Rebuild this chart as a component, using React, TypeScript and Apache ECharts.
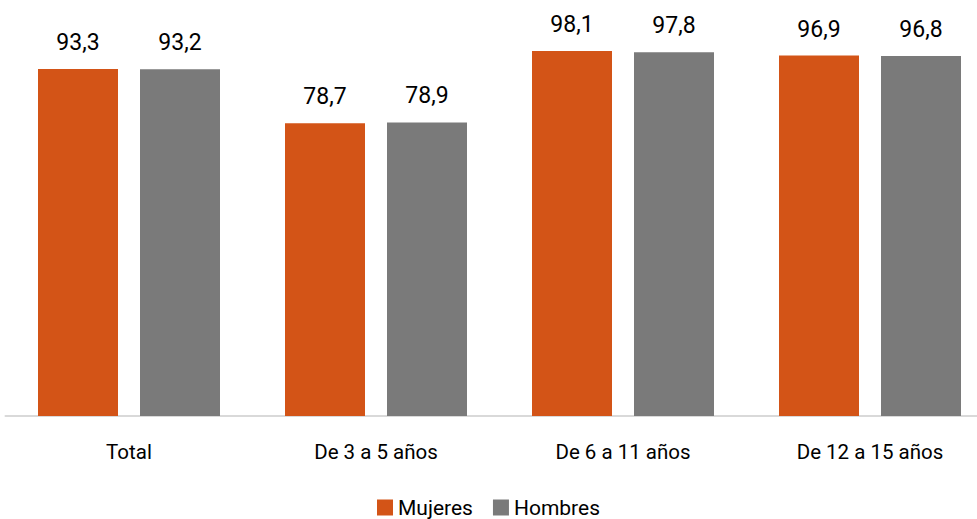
import React, { useEffect, useRef } from "react";
import * as echarts from "echarts";

const categories = ["Total", "De 3 a 5 años", "De 6 a 11 años", "De 12 a 15 años"];
const mujeres = [93.3, 78.7, 98.1, 96.9];
const hombres = [93.2, 78.9, 97.8, 96.8];

const FONT = "Roboto, 'Liberation Sans', sans-serif";

export default function App() {
  const ref = useRef<HTMLDivElement>(null);
  useEffect(() => {
    if (!ref.current) return;
    const chart = echarts.init(ref.current, undefined, { renderer: "svg" });
    const fmt = (p: any) => String(p.value).replace(".", ",");
    chart.setOption({
      animation: false,
      grid: { left: 5.5, width: 988, top: 44, bottom: 103, containLabel: false, outerBoundsMode: "none" },
      legend: {
        bottom: -4,
        left: "center",
        itemWidth: 16,
        itemHeight: 16,
        itemGap: 20,
        icon: "rect",
        textStyle: { fontFamily: FONT, fontSize: 21, color: "#000" },
        data: ["Mujeres", "Hombres"],
      },
      xAxis: {
        type: "category",
        data: categories,
        axisLine: { show: true, lineStyle: { color: "#d9d9d9", width: 2 } },
        axisTick: { show: false },
        axisLabel: { fontFamily: FONT, fontSize: 20.5, color: "#000", margin: 25 },
      },
      yAxis: { type: "value", min: 0, max: 100, show: false, splitLine: { show: false } },
      series: [
        {
          name: "Mujeres",
          type: "bar",
          data: mujeres,
          barWidth: 80,
          barGap: "27.5%",
          itemStyle: { color: "#D35417" },
          label: { show: true, position: "top", distance: 15, formatter: fmt, fontFamily: FONT, fontSize: 23, color: "#000" },
        },
        {
          name: "Hombres",
          type: "bar",
          data: hombres,
          barWidth: 80,
          itemStyle: { color: "#7A7A7A" },
          label: { show: true, position: "top", distance: 15, formatter: fmt, fontFamily: FONT, fontSize: 23, color: "#000" },
        },
      ],
    });
    return () => chart.dispose();
  }, []);
  return <div ref={ref} style={{ width: 977, height: 519, position: "absolute", left: 0, top: 0 }} />;
}
